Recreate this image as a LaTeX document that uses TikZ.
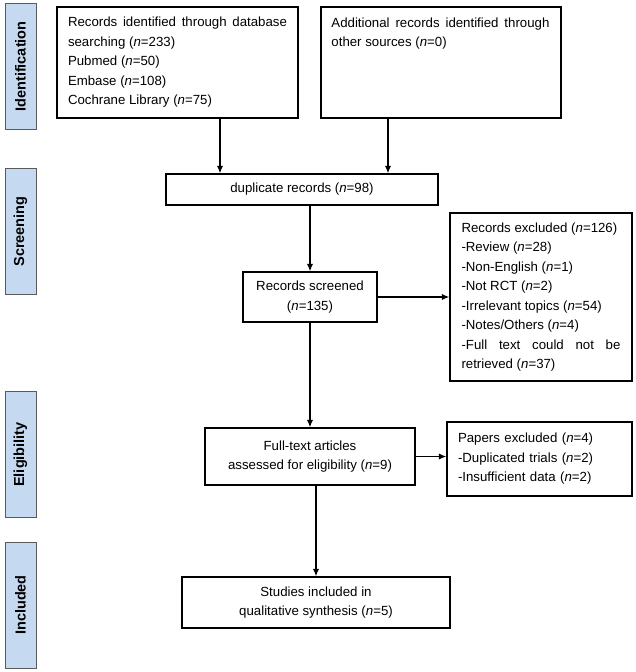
\documentclass[tikz,border=0pt]{standalone}
\usepackage{fontspec}
\setmainfont{Liberation Sans}
\usepackage{tikz}
\usetikzlibrary{arrows.meta,positioning}
\definecolor{stagebg}{RGB}{197,217,241}
\definecolor{stageline}{RGB}{90,90,90}
\hyphenpenalty=10000
\tolerance=10000
\hbadness=10000

\begin{document}
\begin{tikzpicture}[x=1pt,y=-1pt,
  box/.style={draw,line width=1.5pt,inner sep=0pt,font=\fontsize{13.25}{19.5}\selectfont},
  txt/.style={inner sep=0pt,font=\fontsize{13.25}{19.5}\selectfont},
  stage/.style={draw=stageline,fill=stagebg,line width=0.8pt,rotate=90,minimum width=126pt,minimum height=31pt,font=\fontsize{14.5}{16}\selectfont\bfseries},
  arr/.style={-{Latex[length=7.5pt,width=6.5pt]},line width=1.3pt}
]
\useasboundingbox (0,0) rectangle (636,672);

% stage labels
\node[stage] (sident) at (20.5,66.5) {Identification};
\node[stage] (sscreen) at (20.5,231.5) {Screening};
\node[stage] (selig) at (20.5,454.5) {Eligibility};
\node[stage] (sincl) at (20.5,605) {Included};

% boxes
\node[box,text width=219pt,align=justify,minimum width=241pt,minimum height=111pt] (ident) at (177.5,62.5) {Records identified through database searching (\textit{n}=233)\\Pubmed (\textit{n}=50)\\Embase (\textit{n}=108)\\Cochrane Library (\textit{n}=75)};
\node[box,minimum width=240pt,minimum height=111pt] (other) at (441,62.5) {};
\node[txt,text width=218pt,align=justify,below right=11pt and 11pt of other.north west] (othertxt) {Additional records identified through other sources (\textit{n}=0)};
\node[box,minimum width=272pt,minimum height=31pt] (dup) at (302,189.5) {duplicate records (\textit{n}=98)};
\node[box,align=center,minimum width=134pt,minimum height=50pt] (screen) at (310,297) {Records screened\\(\textit{n}=135)};
\node[box,text width=159pt,align=justify,minimum width=182pt,minimum height=168pt] (excl) at (541,297) {Records excluded (\textit{n}=126)\\-Review (\textit{n}=28)\\-Non-English (\textit{n}=1)\\-Not RCT (\textit{n}=2)\\-Irrelevant topics (\textit{n}=54)\\-Notes/Others (\textit{n}=4)\\-Full text could not be retrieved (\textit{n}=37)};
\node[box,align=center,minimum width=210pt,minimum height=57pt] (full) at (310,456.5) {Full-text articles\\assessed for eligibility (\textit{n}=9)};
\node[box,text width=163pt,align=left,minimum width=185pt,minimum height=74pt] (papers) at (539.5,459) {Papers excluded (\textit{n}=4)\\-Duplicated trials (\textit{n}=2)\\-Insufficient data (\textit{n}=2)};
\node[box,align=center,minimum width=268pt,minimum height=51pt] (incl) at (316,602.5) {Studies included in\\qualitative synthesis (\textit{n}=5)};

% arrows
\draw[arr] ([xshift=42.5pt]ident.south) -- ([xshift=42.5pt]ident.south |- dup.north);
\draw[arr] ([xshift=-53pt]other.south) -- ([xshift=-53pt]other.south |- dup.north);
\draw[arr] (screen.north |- dup.south) -- (screen.north);
\draw[arr] (screen.east) -- (screen.east -| excl.west);
\draw[arr] (screen.south) -- (screen.south |- full.north);
\draw[arr] (full.east) -- (full.east -| papers.west);
\draw[arr] (incl.north |- full.south) -- (incl.north);
\end{tikzpicture}
\end{document}
